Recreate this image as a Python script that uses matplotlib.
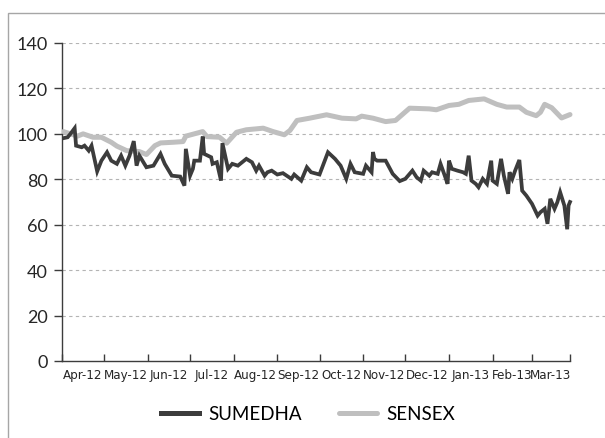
import matplotlib
matplotlib.use("Agg")
import matplotlib.pyplot as plt
import matplotlib.dates as mdates
import matplotlib.patches as mpatches
from matplotlib import font_manager
from datetime import datetime

# --- data (rebased to 100) ---
sensex_dates = ["2012-04-02", "2012-04-07", "2012-04-12", "2012-04-16", "2012-04-23", "2012-04-29",
                "2012-05-06", "2012-05-10", "2012-05-17", "2012-05-26", "2012-05-31", "2012-06-06",
                "2012-06-10", "2012-06-19", "2012-06-26", "2012-06-28", "2012-07-10", "2012-07-13",
                "2012-07-22", "2012-07-27", "2012-08-03", "2012-08-10", "2012-08-17", "2012-08-22",
                "2012-08-29", "2012-09-06", "2012-09-10", "2012-09-15", "2012-09-24", "2012-10-06",
                "2012-10-17", "2012-10-27", "2012-10-31", "2012-11-08", "2012-11-17", "2012-11-24",
                "2012-12-04", "2012-12-18", "2012-12-23", "2013-01-01", "2013-01-08", "2013-01-15",
                "2013-01-26", "2013-02-04", "2013-02-11", "2013-02-20", "2013-02-25", "2013-03-04",
                "2013-03-07", "2013-03-10", "2013-03-15", "2013-03-22", "2013-03-28"]
sensex = [101.0, 100.0, 99.0, 100.0, 98.5, 98.5,
          96.3, 94.6, 92.6, 92.2, 90.9, 94.8,
          96.0, 96.3, 96.6, 99.0, 101.0, 98.8,
          98.5, 95.9, 100.7, 101.8, 102.2, 102.5,
          101.0, 99.6, 101.5, 105.9, 106.9, 108.4,
          106.9, 106.6, 107.8, 106.9, 105.4, 105.9,
          111.3, 111.0, 110.6, 112.5, 113.0, 114.7,
          115.4, 113.0, 111.8, 111.8, 109.5, 108.0,
          109.5, 113.0, 111.5, 107.0, 108.5]

sumedha_dates = ["2012-04-02", "2012-04-05", "2012-04-07", "2012-04-10", "2012-04-11", "2012-04-15",
                 "2012-04-17", "2012-04-20", "2012-04-22", "2012-04-26", "2012-04-29", "2012-05-03",
                 "2012-05-06", "2012-05-10", "2012-05-13", "2012-05-16", "2012-05-19", "2012-05-22",
                 "2012-05-24", "2012-05-26", "2012-05-31", "2012-06-05", "2012-06-10", "2012-06-13",
                 "2012-06-18", "2012-06-24", "2012-06-27", "2012-06-28", "2012-07-01", "2012-07-03",
                 "2012-07-04", "2012-07-08", "2012-07-10", "2012-07-11", "2012-07-16", "2012-07-17",
                 "2012-07-20", "2012-07-23", "2012-07-24", "2012-07-28", "2012-07-31", "2012-08-04",
                 "2012-08-10", "2012-08-14", "2012-08-17", "2012-08-19", "2012-08-23", "2012-08-25",
                 "2012-08-28", "2012-09-01", "2012-09-05", "2012-09-11", "2012-09-13", "2012-09-18",
                 "2012-09-22", "2012-09-25", "2012-10-01", "2012-10-07", "2012-10-12", "2012-10-16",
                 "2012-10-20", "2012-10-23", "2012-10-26", "2012-11-01", "2012-11-03", "2012-11-07",
                 "2012-11-08", "2012-11-09", "2012-11-11", "2012-11-17", "2012-11-22", "2012-11-27",
                 "2012-12-01", "2012-12-06", "2012-12-09", "2012-12-12", "2012-12-14", "2012-12-18",
                 "2012-12-20", "2012-12-24", "2012-12-26", "2012-12-29", "2012-12-31", "2013-01-01",
                 "2013-01-03", "2013-01-07", "2013-01-11", "2013-01-13", "2013-01-15", "2013-01-17",
                 "2013-01-20", "2013-01-22", "2013-01-25", "2013-01-28", "2013-01-31", "2013-02-01",
                 "2013-02-04", "2013-02-07", "2013-02-09", "2013-02-12", "2013-02-13", "2013-02-15",
                 "2013-02-17", "2013-02-20", "2013-02-22", "2013-02-25", "2013-03-01", "2013-03-05",
                 "2013-03-07", "2013-03-10", "2013-03-12", "2013-03-14", "2013-03-17", "2013-03-19",
                 "2013-03-21", "2013-03-24", "2013-03-26", "2013-03-27", "2013-03-28"]
sumedha = [98.1, 98.5, 100.0, 102.5, 94.8, 94.1,
           94.8, 92.6, 94.8, 83.5, 88.2, 91.9,
           88.2, 86.8, 90.4, 86.0, 90.4, 96.8,
           86.0, 90.4, 85.3, 86.0, 91.2, 86.8,
           81.6, 81.2, 77.2, 93.4, 81.6, 84.6,
           88.2, 88.2, 98.8, 91.2, 89.7, 86.8,
           87.5, 79.4, 95.9, 84.6, 86.8, 86.0,
           89.0, 87.5, 83.8, 86.0, 81.6, 83.1,
           83.8, 82.1, 82.7, 80.2, 82.1, 79.4,
           85.3, 83.1, 82.1, 91.9, 89.0, 86.0,
           80.2, 86.8, 83.1, 82.4, 86.0, 83.1,
           92.0, 89.0, 88.2, 88.2, 82.4, 79.2,
           80.2, 83.8, 80.9, 79.4, 83.8, 81.6,
           83.1, 82.4, 86.8, 81.6, 78.0, 88.2,
           84.6, 83.8, 83.1, 82.4, 90.4, 79.4,
           78.0, 76.5, 80.2, 78.0, 88.2, 79.4,
           78.0, 89.0, 81.6, 73.6, 83.1, 80.2,
           83.8, 88.5, 75.0, 72.8, 69.2, 64.0,
           65.5, 67.0, 60.4, 71.4, 67.0, 69.9,
           74.3, 68.4, 58.0, 68.5, 70.0]

month_starts = ["2012-04-01", "2012-05-01", "2012-06-01", "2012-07-01", "2012-08-01", "2012-09-01",
                "2012-10-01", "2012-11-01", "2012-12-01", "2013-01-01", "2013-02-01", "2013-03-01"]
month_labels = ["Apr-12", "May-12", "Jun-12", "Jul-12", "Aug-12", "Sep-12",
                "Oct-12", "Nov-12", "Dec-12", "Jan-13", "Feb-13", "Mar-13"]
axis_end = "2013-03-28"
y_ticks = [0, 20, 40, 60, 80, 100, 120, 140]

DARK = "#3C3C3C"
LIGHT = "#BFBFBF"

to_num = lambda s: mdates.date2num(datetime.strptime(s, "%Y-%m-%d"))
sx = [to_num(d) for d in sensex_dates]
ux = [to_num(d) for d in sumedha_dates]
ms = [to_num(d) for d in month_starts]
end = to_num(axis_end)

# narrow font for the month labels if there is one
names = {f.name for f in font_manager.fontManager.ttflist}
narrow = "Liberation Sans Narrow" if "Liberation Sans Narrow" in names else "DejaVu Sans"

W, H = 605, 439
fig = plt.figure(figsize=(W / 100, H / 100), dpi=100)

# outer grey frame (cut by the image at right/bottom)
frame = mpatches.Rectangle((7.5 / W, -0.2), 1.5, (H - 13.5) / H + 0.2, transform=fig.transFigure,
                           fill=False, edgecolor="#A6A6A6", linewidth=1.0)
fig.add_artist(frame)

# plot area: axis spine at x=62, zero at y=362, 140 at y=44; runs off the right edge
ax = fig.add_axes([62 / W, (H - 362) / H, (W - 62) / W, 318 / H])
ax.set_ylim(0, 140)
# x scale: Apr 1 at px 62, axis end at px 570
px_per_day = (570 - 62) / (end - ms[0])
ax.set_xlim(ms[0], ms[0] + (W - 62) / px_per_day)

ax.plot(sx, sensex, color=LIGHT, linewidth=3.6, solid_joinstyle="round", solid_capstyle="round",
        label="SENSEX", zorder=3)
ax.plot(ux, sumedha, color=DARK, linewidth=2.7, solid_joinstyle="miter", label="SUMEDHA", zorder=4)

for sp in ["top", "right"]:
    ax.spines[sp].set_visible(False)
for sp in ["left", "bottom"]:
    ax.spines[sp].set_color(DARK)
    ax.spines[sp].set_linewidth(1.0)
ax.spines["bottom"].set_bounds(ms[0], end)
ax.spines["left"].set_bounds(0, 140)

ax.set_yticks(y_ticks)
ax.set_yticklabels([str(v) for v in y_ticks], family="Lato", fontsize=13, color="#262626")
ax.tick_params(axis="y", direction="out", length=6, width=1.0, color=DARK, pad=4)
for v in y_ticks[1:]:
    ax.axhline(v, color="#B4B4B4", linewidth=0.8, linestyle=(0, (3, 3)), zorder=1)

# month boundaries as major ticks, labels centred in each month
ax.set_xticks(ms + [end])
ax.set_xticklabels([])
ax.tick_params(axis="x", which="major", direction="in", length=5, width=1.0, color=DARK)
mids = [(a + b) / 2 for a, b in zip(ms, ms[1:] + [end])]
ax.set_xticks(mids, minor=True)
ax.set_xticklabels(month_labels, minor=True, family=narrow, stretch="condensed",
                   fontsize=9.5, color="#262626")
ax.tick_params(axis="x", which="minor", length=0, pad=5)
ax.set_facecolor("none")

handles, labels = ax.get_legend_handles_labels()
leg = fig.legend(handles[::-1], labels[::-1], loc="center", bbox_to_anchor=(308 / W, 1 - 415 / H),
                 ncol=2, frameon=False, handlelength=2.0, handletextpad=0.5, columnspacing=2.0,
                 prop={"family": "Lato", "size": 13.5})
for ln in leg.get_lines():
    ln.set_linewidth(3.6)

fig.savefig("out.png", dpi=100)
